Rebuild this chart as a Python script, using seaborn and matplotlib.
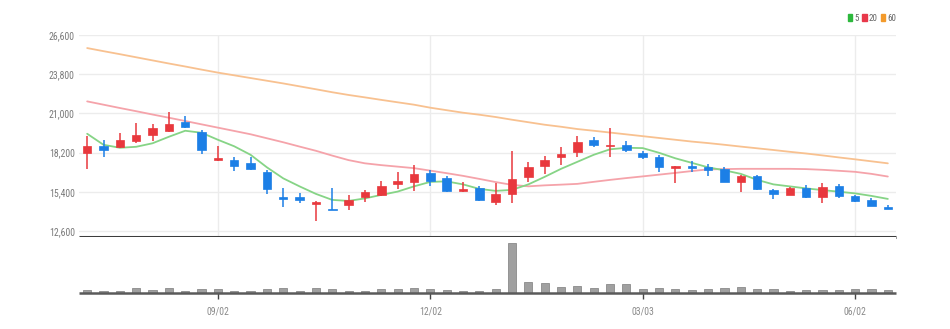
import numpy as np
import pandas as pd
import matplotlib
matplotlib.use("Agg")
import matplotlib.pyplot as plt
import seaborn as sns
from matplotlib.patches import Patch
from matplotlib.ticker import FuncFormatter
from matplotlib import font_manager

# ---------------- data (weekly candles) ----------------
start_date = "2024-07-08"
opens = [18160, 18690, 18600, 19000, 19480, 19720, 20350, 19680, 17680, 17660,
         17490, 16800, 15000, 15000, 14540, 14200, 14440, 15020, 15160, 15980,
         16080, 16720, 16370, 15450, 15650, 14680, 15230, 16440, 17230, 17880,
         18240, 19100, 18640, 18760, 18140, 17850, 17130, 17250, 17180, 17030,
         16080, 16530, 15540, 15160, 15690, 15020, 15830, 15090, 14780, 14320]
highs = [19410, 19070, 19600, 20300, 20250, 21100, 20800, 19840, 18640, 17850,
         17920, 16960, 15690, 15330, 14710, 15650, 15160, 15520, 16170, 16840,
         17320, 16940, 16530, 16080, 15810, 16000, 18330, 17560, 17970, 18600,
         19410, 19340, 19940, 19000, 18280, 18040, 17230, 17610, 17370, 17200,
         16600, 16600, 15620, 15740, 15880, 16000, 15930, 15160, 14930, 14490]
lows = [17030, 17920, 18520, 18860, 19000, 19650, 19950, 18090, 17630, 16890,
        16960, 15230, 14280, 14610, 13310, 14080, 14080, 14680, 15110, 15570,
        15450, 15810, 15400, 15360, 14730, 14490, 14610, 16080, 16650, 17320,
        17850, 18600, 17920, 18240, 17750, 16800, 16000, 16840, 16550, 16080,
        15400, 15520, 14850, 15160, 14930, 14570, 14950, 14680, 14350, 14150]
closes = [18640, 18350, 19070, 19430, 19940, 20250, 20050, 18350, 17830, 17270,
          17010, 15570, 14870, 14820, 14640, 14080, 14780, 15380, 15830, 16150,
          16670, 16170, 15470, 15620, 14800, 15210, 16310, 17200, 17660, 18090,
          18930, 18760, 18760, 18350, 17850, 17180, 17230, 17110, 16980, 16120,
          16510, 15590, 15230, 15690, 15020, 15720, 15090, 14730, 14420, 14150]
volumes = [99, 60, 69, 141, 90, 159, 69, 120, 111, 69,
           51, 120, 159, 69, 150, 120, 69, 69, 111, 120,
           159, 111, 99, 69, 51, 120, 1479, 330, 309, 171,
           219, 159, 261, 261, 120, 159, 120, 99, 111, 159,
           171, 120, 111, 60, 81, 81, 81, 111, 120, 81]
ma5 = [19545, 18758, 18543, 18614, 18865, 19330, 19760, 19617, 19116, 18650,
       18042, 17147, 16359, 15786, 15249, 14820, 14748, 14927, 15178, 15414,
       15786, 16108, 16144, 15929, 15607, 15464, 15536, 15929, 16466, 17039,
       17540, 18042, 18435, 18543, 18521, 18185, 17791, 17469, 17147, 16932,
       16681, 16252, 15929, 15786, 15643, 15521, 15407, 15285, 15106, 14891]
ma20 = [21858, 21622, 21385, 21156, 20920, 20691, 20455, 20218, 19982, 19746,
        19509, 19223, 18937, 18629, 18328, 17984, 17662, 17433, 17304, 17197,
        17089, 16910, 16730, 16538, 16320, 16094, 15894, 15790, 15860, 15910,
        15965, 16110, 16250, 16380, 16500, 16624, 16750, 16880, 17000, 17020,
        17040, 17040, 17040, 17040, 17020, 16970, 16900, 16825, 16680, 16490]
ma60 = [25667, 25445, 25230, 25008, 24786, 24564, 24350, 24128, 23913, 23720,
        23526, 23333, 23140, 22932, 22724, 22510, 22316, 22144, 21965, 21793,
        21622, 21407, 21228, 21049, 20906, 20741, 20548, 20369, 20190, 20046,
        19882, 19760, 19631, 19502, 19373, 19244, 19116, 18987, 18879, 18758,
        18629, 18507, 18385, 18256, 18135, 17999, 17855, 17719, 17576, 17433]
tick_labels = ["09/02", "12/02", "03/03", "06/02"]
y_ticks = [12600, 15400, 18200, 21000, 23800, 26600]
legend_labels = ["5", "20", "60"]

# ---------------- style ----------------
sns.set_theme(style="white")
names = {f.name for f in font_manager.fontManager.ttflist}
fams = [f for f in ["Liberation Sans Narrow", "Roboto Condensed", "Open Sans Condensed"] if f in names]
plt.rcParams['font.family'] = fams + ['DejaVu Sans']
if not fams:
    plt.rcParams['font.stretch'] = 'condensed'

UP = "#e8383d"
DOWN = "#1c7fe6"
C_MA5 = "#86d486"
C_MA20 = "#f5a3aa"
C_MA60 = "#f8c190"
GRID = "#ececec"

n = len(opens)
df = pd.DataFrame({
    "idx": np.arange(n),
    "date": pd.date_range(start_date, periods=n, freq="7D"),
    "open": opens, "high": highs, "low": lows, "close": closes,
    "volume": volumes, "ma5": ma5, "ma20": ma20, "ma60": ma60,
})
df["label"] = df["date"].dt.strftime("%m/%d")
df["up"] = df["close"] >= df["open"]

W, H = 950, 329
fig = plt.figure(figsize=(W / 100, H / 100), dpi=100)
ax = fig.add_axes([79 / W, 1 - 237 / H, 817 / W, 202 / H])
axv = fig.add_axes([79 / W, 1 - 293 / H, 817 / W, 56 / H])

# ---------------- price panel ----------------
tick_pos = [int(df.index[df["label"] == t][0]) for t in tick_labels]
for t in y_ticks:
    ax.axhline(t, color=GRID, lw=1, zorder=0)
for p in tick_pos:
    ax.axvline(p, color=GRID, lw=1, zorder=0)

sns.lineplot(data=df, x="idx", y="ma60", ax=ax, color=C_MA60, lw=1.3, zorder=2)
sns.lineplot(data=df, x="idx", y="ma20", ax=ax, color=C_MA20, lw=1.3, zorder=2)
sns.lineplot(data=df, x="idx", y="ma5", ax=ax, color=C_MA5, lw=1.3, zorder=2)

colors = np.where(df["up"], UP, DOWN)
ax.vlines(df["idx"], df["low"], df["high"], colors=colors, lw=1.1, zorder=3)
body_bottom = np.minimum(df["open"], df["close"])
body_h = np.maximum(np.abs(df["close"] - df["open"]), 70)
ax.bar(df["idx"], body_h, bottom=body_bottom, width=0.52, color=colors,
       edgecolor=colors, lw=0.5, zorder=4)

ax.set_xlim(-0.5, n - 0.5)
ax.set_ylim(12170, 26600)
ax.set_yticks(y_ticks)
ax.yaxis.set_major_formatter(FuncFormatter(lambda v, _: f"{int(v):,}"))
ax.tick_params(axis="y", length=0, labelsize=7, labelcolor="#7a7a7a", pad=3)
ax.set_xticks([])
ax.set_xlabel("")
ax.set_ylabel("")
for s in ["top", "right", "left"]:
    ax.spines[s].set_visible(False)
ax.spines["bottom"].set_color("#3c3c3c")
ax.spines["bottom"].set_linewidth(2.2)
ax.spines["bottom"].set_capstyle("butt")

# ---------------- volume panel ----------------
sns.barplot(data=df, x="idx", y="volume", ax=axv, color="#a0a0a0",
            saturation=1, width=0.5, edgecolor="#8a8a8a", linewidth=0.6)
axv.set_xlim(-0.5, n - 0.5)
axv.set_ylim(0, max(volumes) / 0.885)
axv.set_yticks([])
axv.set_xticks(tick_pos)
axv.set_xticklabels(tick_labels)
axv.tick_params(axis="x", length=4, width=1, color="#444444", labelsize=7,
                labelcolor="#8a8a8a", pad=6, bottom=True)
axv.set_xlabel("")
axv.set_ylabel("")
for s in ["top", "right", "left"]:
    axv.spines[s].set_visible(False)
axv.spines["bottom"].set_color("#5a5a5a")
axv.spines["bottom"].set_linewidth(1.8)
axv.spines["bottom"].set_capstyle("butt")

# ---------------- legend ----------------
handles = [Patch(color=c, label=l) for c, l in
           zip(["#2db83d", "#e8384a", "#f39a2b"], legend_labels)]
fig.legend(handles=handles, loc="upper right", bbox_to_anchor=(896 / W, 1 - 14 / H),
           ncol=3, frameon=False, handlelength=0.5, handleheight=0.8,
           handletextpad=0.2, columnspacing=0.4, fontsize=6.5, labelcolor="#666666",
           borderpad=0, borderaxespad=0)

fig.savefig("out.png", dpi=100, facecolor="white")
